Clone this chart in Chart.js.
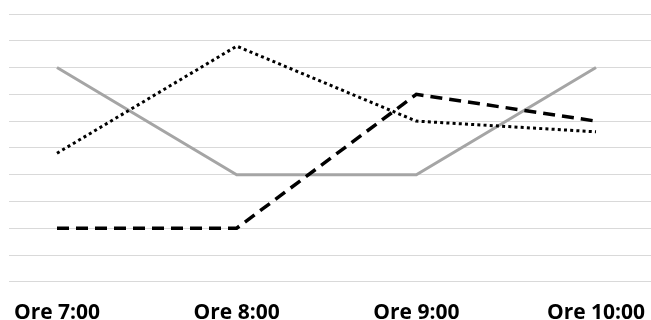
<!DOCTYPE html>
<html>
<head>
<meta charset="utf-8">
<script src="https://cdn.jsdelivr.net/npm/chart.js@4/dist/chart.umd.min.js"></script>
<style>
  html, body { margin: 0; padding: 0; background: #fff; }
  #wrap { width: 651px; height: 320px; }
</style>
</head>
<body>
<div id="wrap"><canvas id="chart"></canvas></div>
<script>
const labels = ['Ore 7:00', 'Ore 8:00', 'Ore 9:00', 'Ore 10:00'];
const serieGrigia = [8, 4, 4, 8];
const seriePunti = [4.8, 8.8, 6, 5.6];
const serieTratti = [2, 2, 7, 6];

const GRID = '#d9d9d9';
const FONT = "'Open Sans', sans-serif";

const toPoints = arr => arr.map((v, i) => ({ x: i, y: v }));

new Chart(document.getElementById('chart'), {
  type: 'line',
  data: {
    datasets: [
      {
        label: 'Tratti',
        data: toPoints(serieTratti),
        borderColor: '#000',
        borderWidth: 3.5,
        borderDash: [12, 7],
        pointRadius: 0,
        tension: 0,
        fill: false,
      },
      {
        label: 'Punti',
        data: toPoints(seriePunti),
        borderColor: '#000',
        borderWidth: 3,
        borderDash: [3, 3.2],
        pointRadius: 0,
        tension: 0,
        fill: false,
      },
      {
        label: 'Grigia',
        data: toPoints(serieGrigia),
        borderColor: '#a5a5a5',
        borderWidth: 3,
        pointRadius: 0,
        tension: 0,
        fill: false,
      }
    ]
  },
  options: {
    responsive: true,
    maintainAspectRatio: false,
    animation: false,
    layout: { padding: { left: 9, right: 0, top: 14, bottom: -25 } },
    plugins: { legend: { display: false }, tooltip: { enabled: false } },
    scales: {
      x: {
        type: 'linear',
        min: -0.267,
        max: 3.306,
        grid: { display: false, drawTicks: false },
        border: { display: false },
        afterBuildTicks: axis => { axis.ticks = labels.map((_, i) => ({ value: i })); },
        afterFit: axis => { axis.paddingLeft = 0; axis.paddingRight = 0; },
        ticks: {
          autoSkip: false,
          maxRotation: 0,
          padding: 19,
          color: '#000',
          font: { family: FONT, size: 21, weight: 'bold' },
          callback: v => labels[v]
        }
      },
      y: {
        min: 0,
        max: 10,
        grid: { color: GRID, lineWidth: 1, drawTicks: false },
        border: { display: false },
        ticks: { display: false, stepSize: 1 }
      }
    }
  }
});
</script>
</body>
</html>
